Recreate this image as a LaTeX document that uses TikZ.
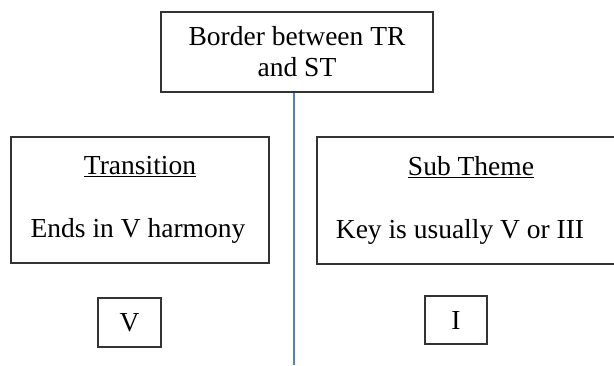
\documentclass[tikz,border=0pt]{standalone}
\usepackage{fontspec}
\setmainfont{Liberation Serif}
\usetikzlibrary{positioning}

\definecolor{divblue}{RGB}{80,125,215}

\tikzset{
  box/.style={draw=black!80, line width=1.1pt, align=center, inner sep=0pt},
}

\begin{document}
\begin{tikzpicture}[x=1pt, y=-1pt, font=\fontsize{27.5}{31}\selectfont]
\useasboundingbox (0,0) rectangle (614,365);
\clip (0,0) rectangle (614,365);

% border box
\node[box, minimum width=272, minimum height=80] (border) at (297,52) {Border between TR\\and ST};

% transition
\node[box, minimum width=258, minimum height=126] (trans) at (140,200) {\underline{Transition}\\[32pt]Ends in V harmony\hspace*{4pt}};

% sub theme (runs off the right edge)
\node[box, minimum width=308, minimum height=127] (sub) at (471,200.5) {\underline{Sub Theme}\\[32pt]Key is usually V or III\hspace*{22pt}};

% chords
\node[box, minimum width=63, minimum height=49] (five) at (129.5,322.5) {V};
\node[box, minimum width=62, minimum height=48] (one) at (456,320) {I};

% divider
\coordinate (bottom) at (294,365);
\draw[divblue, line width=1.2pt] (border.south -| bottom) -- (bottom);

\end{tikzpicture}
\end{document}
